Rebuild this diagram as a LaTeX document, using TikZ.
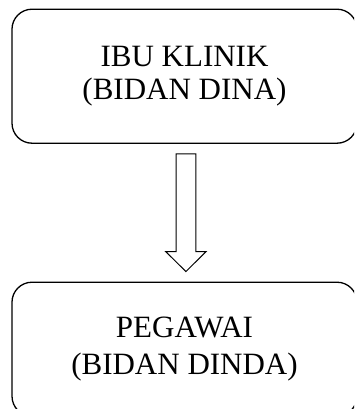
\documentclass[tikz,border=0pt]{standalone}
\usepackage{fontspec}
\setmainfont{Liberation Serif}
\usetikzlibrary{calc}
\tikzset{
  box/.style={draw=black, line width=1.3pt, rounded corners=20pt, inner sep=0pt,
    minimum width=345pt, minimum height=134pt, align=center},
  blockarrow/.style={draw=black, line width=1pt, fill=white, line join=miter}
}
\begin{document}
\begin{tikzpicture}[x=1pt,y=-1pt]
\useasboundingbox (0,0) rectangle (354,409);
\clip (0,0) rectangle (354,409);
\fill[white] (0,0) rectangle (354,409);
\node[box, font=\fontsize{31}{33}\selectfont] (top) at (184.5,76.2) {IBU KLINIK\\(BIDAN DINA)};
\node[box, font=\fontsize{31}{36.5}\selectfont] (bot) at (184.5,349.2) {PEGAWAI\\(BIDAN DINDA)};
\coordinate (a) at ($(top.south)+(1.4,10)$);
\coordinate (b) at ($(bot.north)+(1.4,-10)$);
\draw[blockarrow] ($(a)+(-9.9,0)$) -- ($(a)+(9.9,0)$) -- ($(b)+(9.9,-20)$)
  -- ($(b)+(20.2,-20)$) -- (b) -- ($(b)+(-20.2,-20)$) -- ($(b)+(-9.9,-20)$) -- cycle;
\end{tikzpicture}
\end{document}
